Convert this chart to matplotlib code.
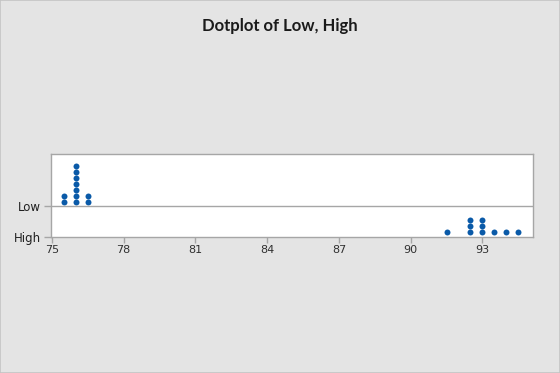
import numpy as np
import matplotlib.pyplot as plt
from matplotlib.patches import Rectangle

# dotplot data (value -> count)
low_vals = [75.5, 76.0, 76.5]
low_counts = [2, 7, 2]
high_vals = [91.5, 92.5, 93.0, 93.5, 94.0, 94.5]
high_counts = [1, 3, 3, 1, 1, 1]

xticks = [75, 78, 81, 84, 87, 90, 93]
row_labels = ['Low', 'High']
title = 'Dotplot of Low, High'

dot_color = '#0a5aa8'
grey = '#a6a6a6'

fig = plt.figure(figsize=(5.6, 3.73), dpi=100)
fig.patch.set_facecolor('#e4e4e4')
fig.patches.append(Rectangle((0, 0), 1, 1, transform=fig.transFigure,
                             fill=False, edgecolor='#c4c4c4', linewidth=1.2))

ax = fig.add_axes([0.091, 0.365, 0.861, 0.222])
ax.set_facecolor('white')

# y is in "pixel" units of the panel: High row at 0, Low row at 30.5
row_base = {'Low': 30.5, 'High': 0.0}
step = 6.0
first = 4.8


def draw_row(vals, counts, base):
    xs = []
    ys = []
    for v, c in zip(vals, counts):
        for i in range(c):
            xs.append(v)
            ys.append(base + first + step * i)
    ax.plot(xs, ys, 'o', color=dot_color, markersize=4.3, markeredgewidth=0)


draw_row(low_vals, low_counts, row_base['Low'])
draw_row(high_vals, high_counts, row_base['High'])

ax.axhline(row_base['Low'], color=grey, linewidth=1.0)

ax.set_xlim(74.96, 95.12)
ax.set_ylim(0, 83)
ax.set_xticks(xticks)
ax.set_xticklabels([str(t) for t in xticks])
ax.set_yticks([row_base['Low'], row_base['High']])
ax.set_yticklabels(row_labels)

for s in ax.spines.values():
    s.set_color(grey)
    s.set_linewidth(1.0)

ax.tick_params(axis='x', direction='out', length=4, width=1, color=grey,
               labelsize=8, labelcolor='#303030', pad=2)
ax.tick_params(axis='y', direction='out', length=5, width=1, color=grey,
               labelsize=8.5, labelcolor='#202020', pad=2)

fig.text(0.5, 0.93, title, ha='center', va='center', fontsize=12,
         family='Lato', fontweight='bold', color='#1a1a1a')

fig.savefig('out.png', dpi=100, facecolor=fig.get_facecolor())
